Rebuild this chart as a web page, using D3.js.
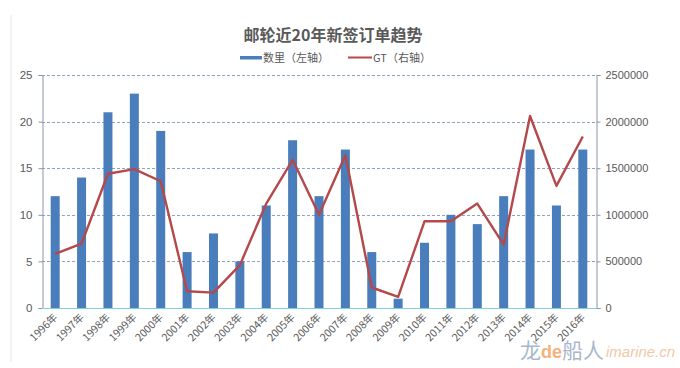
<!DOCTYPE html>
<html><head><meta charset="utf-8">
<script src="https://cdn.jsdelivr.net/npm/d3@7/dist/d3.min.js"></script>
<style>body{margin:0;background:#fff}svg{display:block}</style>
</head><body>
<svg id="c" width="680" height="368"></svg>
<script>
const years = ["1996年","1997年","1998年","1999年","2000年","2001年","2002年","2003年","2004年","2005年","2006年","2007年","2008年","2009年","2010年","2011年","2012年","2013年","2014年","2015年","2016年"];
const counts = [12,14,21,23,19,6,8,5,11,18,12,17,6,1,7,10,9,12,17,11,17];
const gt = [580000,690000,1440000,1490000,1360000,180000,165000,460000,1120000,1590000,1000000,1640000,220000,120000,930000,930000,1120000,680000,2060000,1310000,1840000];
const leftTicks = [0,5,10,15,20,25];
const rightTicks = [0,500000,1000000,1500000,2000000,2500000];
const title = "邮轮近20年新签订单趋势";
const legendLabels = ["数里（左轴）","GT（右轴）"];

const svg = d3.select("#c");
const font = "'Noto Sans CJK SC', 'Liberation Sans', sans-serif";
const L = 42, R = 596, T = 75, B = 308;
const x = d3.scaleBand().domain(years).range([L, R]).paddingInner(0.66).paddingOuter(0.33);
const yL = d3.scaleLinear().domain([0,25]).range([B, T]);
const yR = d3.scaleLinear().domain([0,2500000]).range([B, T]);

svg.append("line").attr("x1",11).attr("x2",11).attr("y1",15).attr("y2",362).attr("stroke","#e4e4e4").attr("stroke-width",1);

svg.append("g").selectAll("line").data(leftTicks.filter(d=>d>0)).join("line")
  .attr("x1",L).attr("x2",R).attr("y1",d=>Math.round(yL(d))+0.5).attr("y2",d=>Math.round(yL(d))+0.5)
  .attr("stroke","#6f8bb5").attr("stroke-width",0.8).attr("stroke-dasharray","3,2");

const bw = 9;
svg.append("g").selectAll("rect").data(counts).join("rect")
  .attr("x",(d,i)=>x(years[i])+x.bandwidth()/2-bw/2)
  .attr("y",d=>yL(d)).attr("width",bw).attr("height",d=>B-yL(d))
  .attr("fill","#4a7dbb");

const axL = d3.axisLeft(yL).tickValues(leftTicks).tickSize(4).tickPadding(6);
const gL = svg.append("g").attr("transform",`translate(${L+0.5},0)`).call(axL);
const axR = d3.axisRight(yR).tickValues(rightTicks).tickSize(4).tickPadding(5).tickFormat(d3.format("d"));
const gR = svg.append("g").attr("transform",`translate(${R+0.5},0)`).call(axR);
[gL,gR].forEach(g=>{
  g.select(".domain").attr("stroke","#8896aa");
  g.selectAll(".tick line").attr("stroke","#8896aa");
  g.selectAll("text").attr("fill","#595959").style("font-family","'Liberation Sans', Arial, sans-serif").style("font-size","11px");
});
gL.selectAll("text").style("font-size","11.5px");

svg.append("line").attr("x1",L).attr("x2",R).attr("y1",B+0.5).attr("y2",B+0.5).attr("stroke","#7fd3dd").attr("stroke-width",1.2);

const line = d3.line().x((d,i)=>x(years[i])+x.bandwidth()/2).y(d=>yR(d));
svg.append("path").datum(gt).attr("d",line).attr("fill","none")
  .attr("stroke","#b5484a").attr("stroke-width",2.4).attr("stroke-linejoin","round");

svg.append("g").selectAll("text").data(years).join("text")
  .attr("transform",d=>`translate(${x(d)+x.bandwidth()/2+3},${B+10}) rotate(-45)`)
  .attr("text-anchor","end").attr("fill","#595959")
  .style("font-family",font).style("font-size","10.5px").text(d=>d);

svg.append("text").attr("x",333).attr("y",41).attr("text-anchor","middle")
  .attr("fill","#595959").style("font-family",font).style("font-weight","bold").style("font-size","16px").text(title);

svg.append("rect").attr("x",240).attr("y",56).attr("width",22).attr("height",3.5).attr("fill","#4a7dbb");
svg.append("text").attr("x",263).attr("y",61.5).attr("fill","#595959").style("font-family",font).style("font-size","11px").text(legendLabels[0]);
svg.append("line").attr("x1",348).attr("x2",372).attr("y1",57.5).attr("y2",57.5).attr("stroke","#b5484a").attr("stroke-width",2);
svg.append("text").attr("x",373).attr("y",61.5).attr("fill","#595959").style("font-family",font).style("font-size","11px").text(legendLabels[1]);

const wm = svg.append("text").attr("x",520).attr("y",358).style("font-family",font).style("font-size","21px");
wm.append("tspan").attr("fill","#a8b8cc").text("龙");
wm.append("tspan").attr("fill","#f3b27c").style("font-family","'Liberation Sans', Arial, sans-serif").style("font-weight","bold").style("font-size","18px").text("de");
wm.append("tspan").attr("fill","#a8b8cc").text("船人");
svg.append("text").attr("x",606).attr("y",357).attr("fill","#f2c9a5").style("font-family","'Liberation Sans', Arial, sans-serif").style("font-style","italic").style("font-size","15px").text("imarine.cn");
</script>
</body></html>
